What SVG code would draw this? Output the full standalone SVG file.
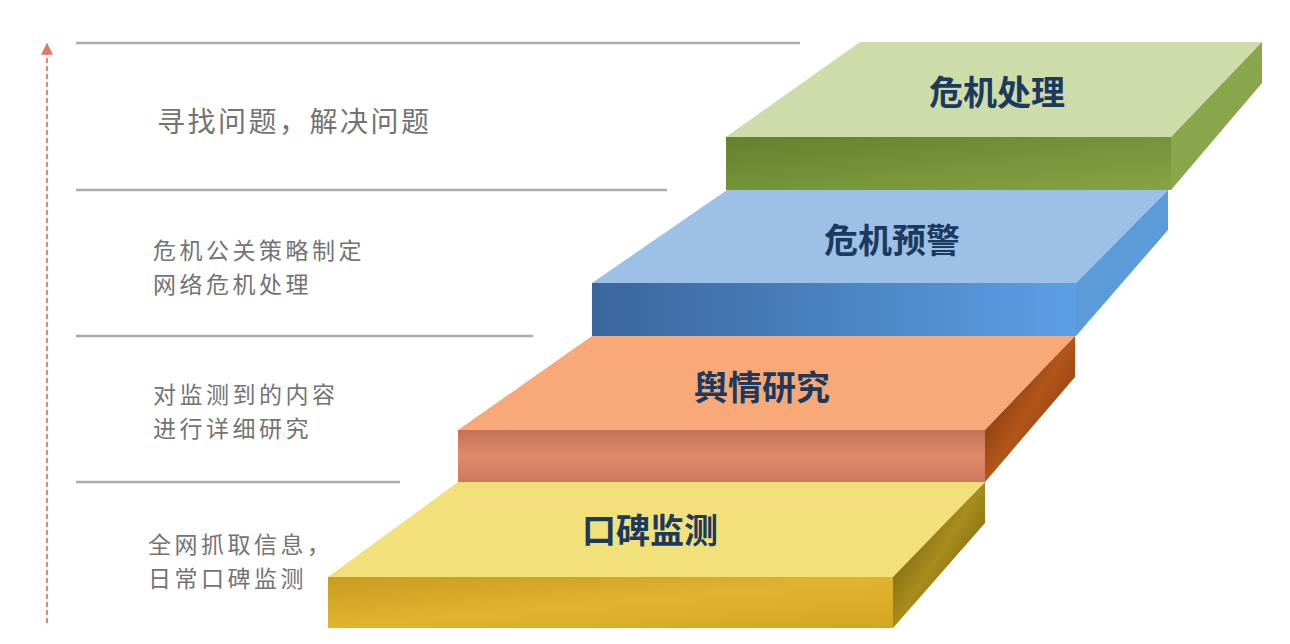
<svg xmlns="http://www.w3.org/2000/svg" width="1290" height="644" viewBox="0 0 1290 644">
<style>
.guide{stroke:#ababab;stroke-width:2.5;fill:none}
.desc{font-family:"Noto Sans CJK SC","Noto Sans",sans-serif;font-size:23px;letter-spacing:3.5px;fill:#737373}
.step{font-family:"Noto Sans CJK SC","Noto Sans",sans-serif;font-size:34px;font-weight:700;fill:#1c3a5e;text-anchor:middle}
</style>
<defs>
<marker id="ah" viewBox="0 0 10 10" refX="9" refY="5" markerWidth="12" markerHeight="12" markerUnits="userSpaceOnUse" orient="auto">
<path d="M0,0 L10,5 L0,10 Z" fill="#e07a62"/>
</marker>
<linearGradient id="gFront" x1="0" y1="0" x2="1" y2="1"><stop offset="0" stop-color="#64822c"/><stop offset="1" stop-color="#86a444"/></linearGradient>
<linearGradient id="bFront" x1="0" y1="0" x2="1" y2="0"><stop offset="0" stop-color="#39669c"/><stop offset="1" stop-color="#5c9fe6"/></linearGradient>
<linearGradient id="oFront" x1="0" y1="0" x2="0" y2="1"><stop offset="0" stop-color="#c27258"/><stop offset="0.5" stop-color="#e08a6a"/><stop offset="1" stop-color="#cd785e"/></linearGradient>
<linearGradient id="yFront" x1="0" y1="0" x2="1" y2="1"><stop offset="0" stop-color="#c89c1e"/><stop offset="0.5" stop-color="#e0b42e"/><stop offset="1" stop-color="#d2a622"/></linearGradient>
<linearGradient id="oSide" x1="0" y1="0" x2="1" y2="1"><stop offset="0" stop-color="#5e2606"/><stop offset="0.5" stop-color="#b2561a"/><stop offset="1" stop-color="#6a2c08"/></linearGradient>
<linearGradient id="ySide" x1="0" y1="0" x2="1" y2="1"><stop offset="0" stop-color="#5c4808"/><stop offset="0.5" stop-color="#a88c1c"/><stop offset="1" stop-color="#5e4a0a"/></linearGradient>
<linearGradient id="baseLine" x1="0" y1="0" x2="1" y2="0"><stop offset="0" stop-color="#c4c4c4"/><stop offset="1" stop-color="#707070"/></linearGradient>
</defs>
<rect width="1290" height="644" fill="#ffffff"/>

<g id="connectors">
<line x1="47" y1="623" x2="47" y2="44" stroke="#e28a78" stroke-width="2" stroke-dasharray="5,3" marker-end="url(#ah)"/>
<line class="guide" x1="76" y1="43" x2="800" y2="43"/>
<line class="guide" x1="76" y1="190" x2="667" y2="190"/>
<line class="guide" x1="76" y1="336" x2="533" y2="336"/>
<line class="guide" x1="76" y1="482" x2="400" y2="482"/>
<line x1="76" y1="629" x2="330" y2="629" stroke="url(#baseLine)" stroke-width="2.5"/>
</g>

<g id="desc4">
<text class="desc" x="157" y="132" style="font-size:28px;letter-spacing:2.5px">寻找问题，解决问题</text>
</g>
<g id="desc3">
<text class="desc" x="153" y="259">危机公关策略制定</text>
<text class="desc" x="153" y="293">网络危机处理</text>
</g>
<g id="desc2">
<text class="desc" x="153" y="403">对监测到的内容</text>
<text class="desc" x="153" y="437">进行详细研究</text>
</g>
<g id="desc1">
<text class="desc" x="148" y="553">全网抓取信息，</text>
<text class="desc" x="148" y="587">日常口碑监测</text>
</g>

<g id="step1">
<polygon points="458,482 985,482 893,577 328,577" fill="#f2e17a"/>
<rect x="328" y="577" width="565" height="51" fill="url(#yFront)"/>
<polygon points="893,577 985,482 985,523 893,628" fill="url(#ySide)"/>
<text class="step" x="650" y="543">口碑监测</text>
</g>

<g id="step2">
<polygon points="592,336 1075,336 985,430 458,430" fill="#f9a878"/>
<rect x="458" y="430" width="527" height="52" fill="url(#oFront)"/>
<polygon points="985,430 1075,336 1075,377 985,482" fill="url(#oSide)"/>
<text class="step" x="762" y="400">舆情研究</text>
</g>

<g id="step3">
<polygon points="727,190 1168,190 1076,283 592,283" fill="#9dc0e6"/>
<rect x="592" y="283" width="484" height="53" fill="url(#bFront)"/>
<polygon points="1076,283 1168,190 1168,230 1076,336" fill="#5b9bd9"/>
<text class="step" x="892" y="253">危机预警</text>
</g>

<g id="step4">
<polygon points="860,42 1262,42 1171,137 726,137" fill="#cedca9"/>
<rect x="726" y="137" width="445" height="53" fill="url(#gFront)"/>
<polygon points="1171,137 1262,42 1262,83 1171,190" fill="#89a64a"/>
<text class="step" x="997" y="105">危机处理</text>
</g>
</svg>
